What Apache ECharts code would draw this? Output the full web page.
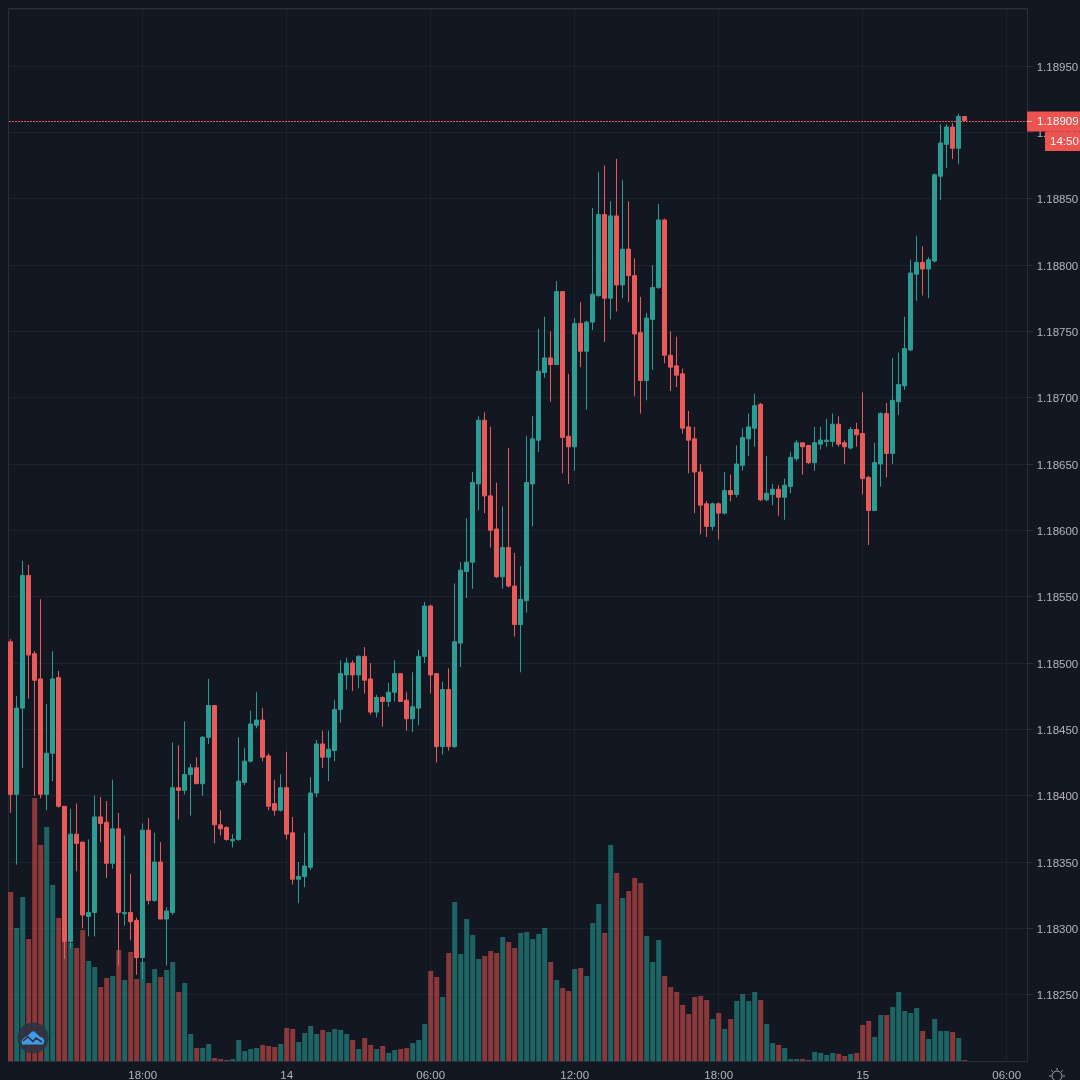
<!DOCTYPE html>
<html><head><meta charset="utf-8">
<style>html,body{margin:0;padding:0;background:#131722}#c{width:1080px;height:1080px}</style>
<script src="https://cdn.jsdelivr.net/npm/echarts@6/dist/echarts.min.js"></script>
</head><body><div id="c"></div>
<script>
const opens=[1.18516,1.18401,1.18466,1.18566,1.18507,1.18488,1.18401,1.18432,1.18489,1.18392,
1.18290,1.18371,1.18365,1.18309,1.18312,1.18384,1.18380,1.18349,1.18375,1.18311,
1.18312,1.18306,1.18278,1.18374,1.18321,1.18350,1.18307,1.18312,1.18406,1.18404,
1.18416,1.18421,1.18409,1.18444,1.18468,1.18378,1.18376,1.18366,1.18367,1.18410,
1.18426,1.18453,1.18457,1.18430,1.18394,1.18389,1.18406,1.18372,1.18337,1.18339,
1.18346,1.18402,1.18439,1.18429,1.18434,1.18465,1.18491,1.18500,1.18491,1.18505,
1.18488,1.18463,1.18474,1.18471,1.18478,1.18492,1.18472,1.18458,1.18466,1.18505,
1.18543,1.18492,1.18437,1.18480,1.18437,1.18515,1.18569,1.18576,1.18635,1.18683,
1.18626,1.18601,1.18565,1.18587,1.18558,1.18529,1.18547,1.18635,1.18668,1.18719,
1.18730,1.18725,1.18780,1.18671,1.18663,1.18756,1.18735,1.18757,1.18777,1.18838,
1.18775,1.18837,1.18785,1.18812,1.18792,1.18749,1.18713,1.18759,1.18783,1.18834,
1.18732,1.18724,1.18718,1.18678,1.18669,1.18644,1.18620,1.18603,1.18620,1.18613,
1.18630,1.18627,1.18649,1.18669,1.18677,1.18695,1.18623,1.18627,1.18631,1.18625,
1.18633,1.18654,1.18666,1.18664,1.18651,1.18665,1.18667,1.18667,1.18680,1.18666,
1.18662,1.18676,1.18673,1.18640,1.18615,1.18650,1.18688,1.18658,1.18697,1.18709,
1.18736,1.18793,1.18802,1.18797,1.18803,1.18867,1.18891,1.18904,1.18888,1.18912];
const closes=[1.18401,1.18466,1.18566,1.18506,1.18487,1.18401,1.18432,1.18488,1.18392,1.18290,
1.18371,1.18364,1.18310,1.18312,1.18384,1.18379,1.18349,1.18375,1.18312,1.18312,
1.18305,1.18278,1.18374,1.18321,1.18350,1.18307,1.18313,1.18406,1.18404,1.18416,
1.18421,1.18409,1.18444,1.18468,1.18378,1.18375,1.18367,1.18367,1.18411,1.18426,
1.18454,1.18457,1.18429,1.18392,1.18389,1.18406,1.18371,1.18337,1.18339,1.18347,
1.18402,1.18439,1.18429,1.18435,1.18465,1.18492,1.18500,1.18491,1.18505,1.18487,
1.18463,1.18474,1.18471,1.18478,1.18492,1.18471,1.18458,1.18467,1.18505,1.18543,
1.18491,1.18437,1.18480,1.18437,1.18516,1.18570,1.18576,1.18636,1.18683,1.18626,
1.18600,1.18565,1.18587,1.18558,1.18529,1.18548,1.18636,1.18669,1.18720,1.18730,
1.18725,1.18780,1.18670,1.18663,1.18756,1.18735,1.18757,1.18778,1.18838,1.18775,
1.18837,1.18785,1.18812,1.18792,1.18748,1.18713,1.18760,1.18783,1.18834,1.18732,
1.18723,1.18717,1.18677,1.18668,1.18644,1.18619,1.18603,1.18620,1.18613,1.18630,
1.18627,1.18650,1.18670,1.18678,1.18694,1.18623,1.18628,1.18631,1.18625,1.18634,
1.18655,1.18666,1.18663,1.18651,1.18666,1.18668,1.18668,1.18680,1.18665,1.18663,
1.18676,1.18672,1.18639,1.18615,1.18651,1.18688,1.18658,1.18698,1.18710,1.18737,
1.18794,1.18802,1.18797,1.18804,1.18868,1.18892,1.18904,1.18888,1.18912,1.18909];
const highs=[1.18518,1.18475,1.18577,1.18574,1.18509,1.18548,1.18469,1.18509,1.18494,1.18392,
1.18390,1.18394,1.18365,1.18367,1.18400,1.18399,1.18396,1.18412,1.18387,1.18370,
1.18341,1.18308,1.18379,1.18383,1.18372,1.18365,1.18316,1.18440,1.18438,1.18456,
1.18424,1.18429,1.18445,1.18488,1.18468,1.18389,1.18377,1.18371,1.18444,1.18436,
1.18464,1.18478,1.18466,1.18432,1.18412,1.18416,1.18433,1.18384,1.18350,1.18372,
1.18414,1.18442,1.18449,1.18449,1.18472,1.18502,1.18504,1.18502,1.18506,1.18512,
1.18500,1.18476,1.18475,1.18485,1.18502,1.18492,1.18478,1.18493,1.18510,1.18546,
1.18544,1.18492,1.18486,1.18496,1.18560,1.18576,1.18609,1.18644,1.18686,1.18689,
1.18678,1.18636,1.18618,1.18662,1.18583,1.18573,1.18671,1.18686,1.18752,1.18761,
1.18750,1.18788,1.18780,1.18718,1.18760,1.18772,1.18758,1.18843,1.18870,1.18875,
1.18848,1.18880,1.18864,1.18848,1.18805,1.18776,1.18764,1.18800,1.18846,1.18835,
1.18750,1.18746,1.18722,1.18690,1.18678,1.18650,1.18622,1.18621,1.18621,1.18644,
1.18642,1.18664,1.18677,1.18688,1.18703,1.18696,1.18656,1.18635,1.18634,1.18639,
1.18659,1.18668,1.18666,1.18664,1.18678,1.18678,1.18684,1.18688,1.18686,1.18668,
1.18678,1.18681,1.18704,1.18641,1.18666,1.18689,1.18696,1.18730,1.18734,1.18761,
1.18804,1.18822,1.18814,1.18806,1.18869,1.18906,1.18906,1.18907,1.18914,1.18912];
const lows=[1.18387,1.18348,1.18421,1.18473,1.18400,1.18398,1.18389,1.18411,1.18391,1.18277,
1.18285,1.18343,1.18300,1.18294,1.18294,1.18365,1.18338,1.18345,1.18272,1.18302,
1.18291,1.18265,1.18262,1.18318,1.18320,1.18307,1.18272,1.18310,1.18382,1.18401,
1.18385,1.18409,1.18400,1.18439,1.18364,1.18370,1.18366,1.18361,1.18366,1.18408,
1.18425,1.18451,1.18426,1.18389,1.18385,1.18388,1.18367,1.18333,1.18319,1.18331,
1.18344,1.18399,1.18421,1.18411,1.18426,1.18455,1.18480,1.18479,1.18481,1.18477,
1.18461,1.18459,1.18452,1.18467,1.18471,1.18471,1.18449,1.18448,1.18453,1.18500,
1.18477,1.18425,1.18431,1.18434,1.18436,1.18497,1.18549,1.18556,1.18615,1.18613,
1.18587,1.18564,1.18556,1.18557,1.18520,1.18493,1.18538,1.18603,1.18659,1.18715,
1.18697,1.18725,1.18643,1.18635,1.18645,1.18723,1.18691,1.18751,1.18776,1.18742,
1.18759,1.18765,1.18775,1.18772,1.18701,1.18688,1.18698,1.18721,1.18782,1.18726,
1.18705,1.18708,1.18673,1.18643,1.18613,1.18597,1.18595,1.18600,1.18593,1.18612,
1.18622,1.18625,1.18645,1.18656,1.18663,1.18622,1.18622,1.18619,1.18611,1.18608,
1.18628,1.18652,1.18642,1.18650,1.18645,1.18661,1.18663,1.18663,1.18663,1.18650,
1.18661,1.18663,1.18627,1.18589,1.18615,1.18633,1.18640,1.18650,1.18687,1.18706,
1.18735,1.18773,1.18777,1.18775,1.18802,1.18849,1.18873,1.18880,1.18876,1.18909];
const volumes=[169,133,164,122,263,216,234,176,143,119,
118,113,131,100,94,74,83,85,111,81,
109,82,99,78,92,84,91,99,69,78,
27,13,13,17,3,2,1,2,21,10,
12,13,16,15,14,17,33,32,19,28,
35,27,31,29,32,31,27,21,12,23,
16,12,15,8,11,12,13,18,21,37,
90,84,64,108,159,107,142,126,102,105,
110,108,124,119,113,128,129,122,127,133,
99,81,73,70,92,93,85,138,157,128,
216,188,163,170,183,178,125,99,121,85,
74,69,56,47,64,65,61,42,48,32,
42,60,67,60,69,61,37,18,16,13,
2,2,2,1,9,8,6,8,7,5,
7,8,36,40,24,46,46,54,69,50,
48,53,30,22,42,30,30,29,23,1];
const tickLabels=['18:00','14','06:00','12:00','18:00','15','06:00'];
const firstTickBar=22, barsPerTick=24, futureBars=10;
const lastPriceText='1.18909', countdownText='14:50';
const categories=[]; for(let i=0;i<opens.length+futureBars;i++)categories.push('bar '+i);

const UP='#2a9e94',DOWN='#e95a58',BOX='#ef5350',GRID='#1e222d',FRAME='#2a2e39',TXT='#b2b5be',BG='#131722';
const FONT='"Liberation Sans"';
const isTick=i=>i>=firstTickBar&&(i-firstTickBar)%barsPerTick===0;
const chart=echarts.init(document.getElementById('c'),null,{renderer:'canvas'});
chart.setOption({
 animation:false,backgroundColor:BG,
 grid:{left:7.7,width:1020,top:9,bottom:19,containLabel:false,outerBoundsMode:'none'},
 xAxis:{type:'category',data:categories,boundaryGap:true,
  axisLine:{show:false},axisTick:{show:false},
  axisLabel:{interval:(i)=>isTick(i),color:TXT,fontFamily:FONT,fontSize:11.5,margin:9,
   formatter:(v,i)=>tickLabels[(i-firstTickBar)/barsPerTick]||''},
  splitLine:{show:true,interval:(i)=>isTick(i),alignWithLabel:true,lineStyle:{color:GRID,width:1}}},
 yAxis:[{type:'value',position:'right',min:1.182,max:1.18993,interval:0.0005,
   axisLine:{show:false},axisTick:{show:true,length:5,lineStyle:{color:FRAME}},
   axisLabel:{margin:9,showMinLabel:false,showMaxLabel:false,formatter:v=>'{v|'+v.toFixed(5)+'}',
     rich:{v:{color:TXT,fontFamily:FONT,fontSize:11.5,padding:[3,0,0,0]}}},
   splitLine:{show:true,lineStyle:{color:GRID,width:1}}},
  {type:'value',show:false,min:0,max:1052,splitLine:{show:false}}],
 series:[
  {type:'bar',name:'Volume',yAxisIndex:1,barWidth:5,z:1,silent:true,
   data:volumes.map((v,i)=>({value:v,itemStyle:{color:closes[i]>=opens[i]?'rgba(38,166,154,0.55)':'rgba(239,83,80,0.55)'}}))},
  {type:'candlestick',name:'Price',yAxisIndex:0,barWidth:4,z:3,silent:true,
   itemStyle:{color:UP,color0:DOWN,borderColor:UP,borderColor0:DOWN,borderWidth:1},
   data:opens.map((o,i)=>[o,closes[i],lows[i],highs[i]])}
 ]
});
const py=chart.convertToPixel({yAxisIndex:0},closes[closes.length-1])+1;
const rays=[[1057,1068,1057,1070],[1057,1082,1057,1084],[1049,1076,1051,1076],[1063,1076,1065,1076],
 [1051.3,1070.3,1052.8,1071.8],[1061.2,1080.2,1062.7,1081.7],[1062.7,1070.3,1061.2,1071.8],[1052.8,1080.2,1051.3,1081.7]];
const SUN='#a0a3ac';
chart.setOption({graphic:[
 {type:'rect',z:0,silent:true,shape:{x:8.5,y:8.5,width:1019,height:1053},style:{fill:'none',stroke:FRAME,lineWidth:1}},
 {type:'line',z:20,silent:true,shape:{x1:9,y1:Math.round(py)+0.5,x2:1027,y2:Math.round(py)+0.5},style:{stroke:BOX,lineWidth:1,lineDash:[2,1]}},
 {type:'rect',z:50,silent:true,shape:{x:1027,y:py-10,width:53,height:20},style:{fill:BOX}},
 {type:'rect',z:50,silent:true,shape:{x:1045,y:py+10,width:35,height:19.5},style:{fill:BOX}},
 {type:'line',z:51,silent:true,shape:{x1:1027,y1:py,x2:1032,y2:py},style:{stroke:'#f6c6c5',lineWidth:1}},
 {type:'text',z:51,silent:true,x:1037,y:py+0.5,style:{text:lastPriceText,fill:'#ffffff',font:'11.5px '+FONT,textVerticalAlign:'middle'}},
 {type:'text',z:51,silent:true,x:1050,y:py+20,style:{text:countdownText,fill:'#ffffff',font:'11.5px '+FONT,textVerticalAlign:'middle'}},
 {type:'circle',z:60,silent:true,shape:{cx:33,cy:1038,r:15.5},style:{fill:'rgba(46,51,65,0.92)'}},
 {type:'polygon',z:61,silent:true,shape:{points:[[22,1044.5],[21.5,1041],[24,1038],[27.5,1036],[32,1031.5],[34.5,1031.5],[39.5,1036.5],[43,1038],[44.5,1041],[43,1044.5]]},style:{fill:'#3f9be8'}},
 {type:'polyline',z:62,silent:true,shape:{points:[[23,1041],[28,1037],[33,1041.5],[36,1038],[42,1042]]},style:{stroke:'#2e3341',lineWidth:1.6,fill:'none'}},
 {type:'circle',z:60,silent:true,shape:{cx:1057,cy:1076,r:5},style:{fill:'none',stroke:SUN,lineWidth:1}}
].concat(rays.map(r=>({type:'line',z:60,silent:true,shape:{x1:r[0],y1:r[1],x2:r[2],y2:r[3]},style:{stroke:SUN,lineWidth:1}})))});
</script></body></html>
